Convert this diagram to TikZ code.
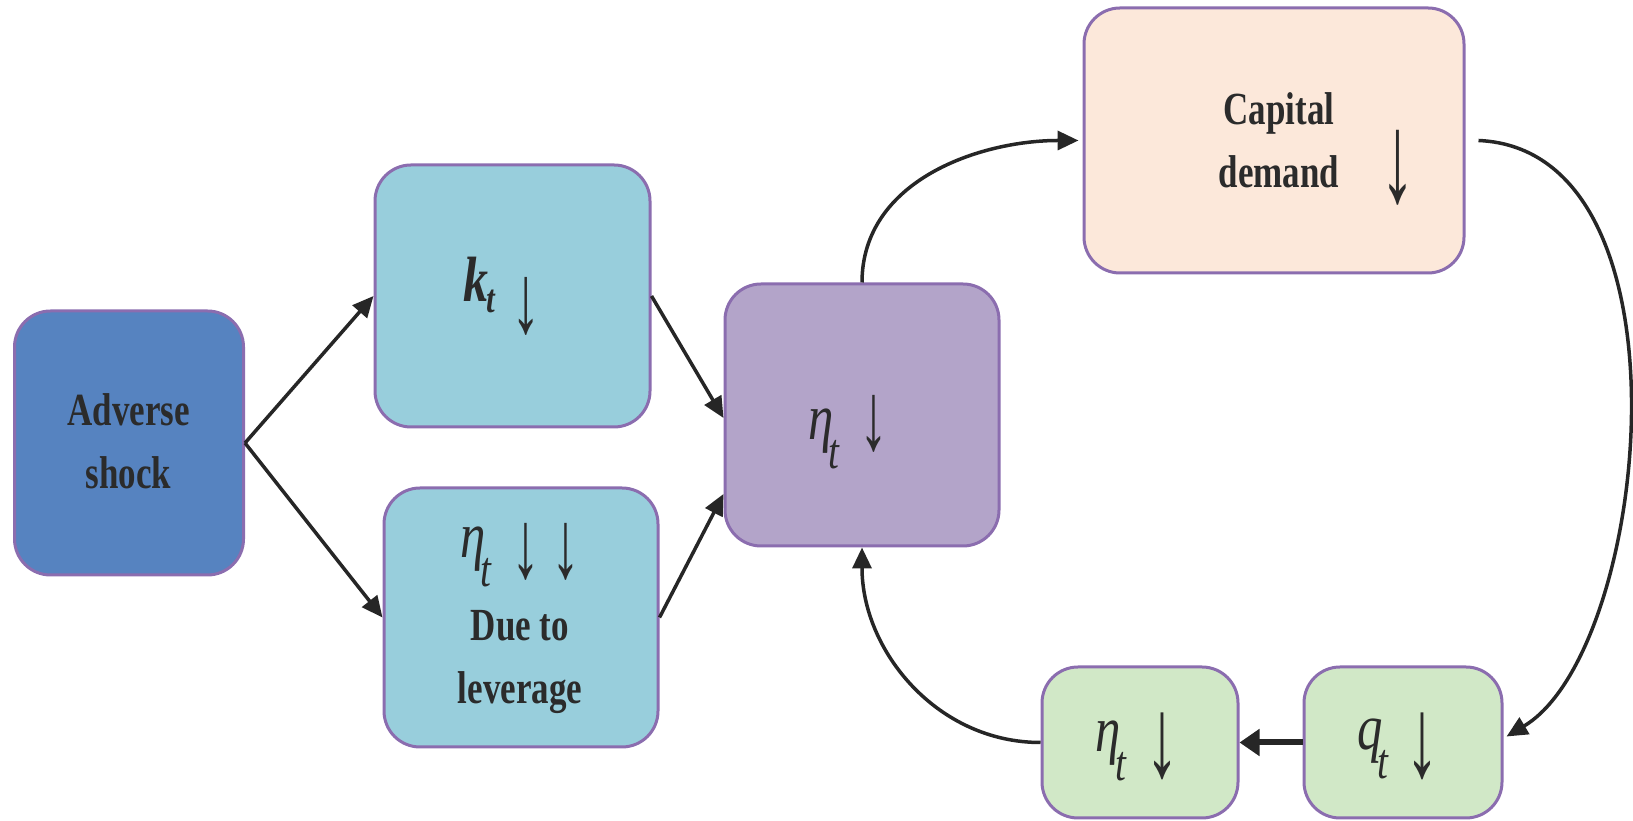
\documentclass[tikz,border=0pt]{standalone}
\usepackage{fontspec}
\usetikzlibrary{arrows.meta}
\newfontfamily\lblfont[FakeStretch=0.76]{Liberation Serif}
\newfontfamily\mthfont[FakeStretch=0.78]{Liberation Serif}
\newfontfamily\arrfont{Liberation Serif}
\definecolor{bord}{HTML}{8B6DAF}
\definecolor{advc}{HTML}{5683C0}
\definecolor{tealc}{HTML}{98CEDC}
\definecolor{purc}{HTML}{B3A4C9}
\definecolor{capc}{HTML}{FCE8DA}
\definecolor{grnc}{HTML}{D1E8C7}
\definecolor{txt}{HTML}{2B2B2B}
\definecolor{arr}{HTML}{262626}
\newcommand\msym[2]{{\mthfont\itshape\fontsize{65}{65}\selectfont #1\kern-5pt\raisebox{-29pt}{\fontsize{50}{50}\selectfont #2}}}
\newcommand\darr[2]{\scalebox{#1}[1]{\resizebox*{!}{#2}{\arrfont\fontsize{60}{60}\selectfont ↓}}}
\begin{document}
\begin{tikzpicture}[x=1pt,y=1pt,
  box/.style={draw=bord, line width=3pt, rounded corners=36pt, inner sep=0pt},
  tx/.style={text=txt, inner sep=0pt, align=center},
  sym/.style={tx, anchor=base west},
  lbl/.style={tx, font=\lblfont\bfseries\fontsize{46}{63}\selectfont},
  conn/.style={draw=arr, line width=3.5pt, -{Triangle[length=21pt,width=19pt]}}]
\useasboundingbox (0,0) rectangle (1633,821);
% boxes
\node[box, fill=advc, minimum width=229pt, minimum height=264pt] (adv) at (129,378) {};
\node[box, fill=tealc, minimum width=275pt, minimum height=262pt] (kt) at (512.5,525) {};
\node[box, fill=tealc, minimum width=274pt, minimum height=259pt] (lev) at (521,203.5) {};
\node[box, fill=purc, minimum width=274pt, minimum height=262pt] (eta) at (862,406) {};
\node[box, fill=capc, minimum width=380pt, minimum height=265pt] (cap) at (1274,680.5) {};
\node[box, fill=grnc, minimum width=196pt, minimum height=151pt] (geta) at (1140,78.5) {};
\node[box, fill=grnc, minimum width=198pt, minimum height=151pt] (q) at (1403,78.5) {};
% labels
\node[lbl] (advt) at (128.5,380) {Adverse\\shock};
\node[lbl] (levt) at (520,159) {Due to\\leverage};
\node[lbl] (capt) at (1279,681) {Capital\\demand};
% symbols
\node[sym] (kts) at (463,519) {{\mthfont\bfseries\itshape\fontsize{64}{64}\selectfont k\kern-2pt\raisebox{-11pt}{\fontsize{40}{40}\selectfont t}}};
\node[sym] (levs) at (460,263) {\msym{η}{t}};
\node[sym] (etas) at (808,381) {\msym{η}{t}};
\node[sym] (getas) at (1095,69) {\msym{η}{t}};
\node[sym] (qs) at (1357,71) {\msym{q}{t}};
% down arrows
\node[tx] (kta) at (526,515) {\darr{0.6}{58pt}};
\node[tx] (leva1) at (526,269.5) {\darr{0.6}{57pt}};
\node[tx] (leva2) at (566,269.5) {\darr{0.6}{57pt}};
\node[tx] (etaa) at (874,397.5) {\darr{0.6}{57pt}};
\node[tx] (capa) at (1398,653.5) {\darr{0.55}{75pt}};
\node[tx] (getaa) at (1162,74.5) {\darr{0.6}{67pt}};
\node[tx] (qa) at (1422,74.5) {\darr{0.6}{67pt}};
% connectors
\draw[conn] (adv.east) -- (kt.west);
\draw[conn] (adv.east) -- (lev.west);
\draw[conn] (kt.east) -- ([yshift=-3pt]eta.west);
\draw[conn] (lev.east) -- ([yshift=-79pt]eta.west);
\draw[conn, shorten >=4pt] (eta.north) to[out=90,in=180] (cap.west);
\draw[conn] ([xshift=13pt]cap.east) .. controls (1700,671) and (1650,170) .. ([xshift=3pt,yshift=6pt]q.east);
\draw[conn, line width=6pt, -{Triangle[length=20pt,width=26pt]}] (q.west) -- (geta.east);
\draw[conn] (geta.west) to[out=180,in=-90] (eta.south);
\end{tikzpicture}
\end{document}
